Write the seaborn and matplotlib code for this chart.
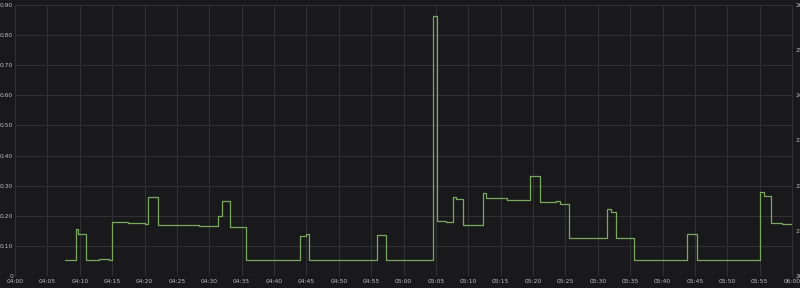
import matplotlib
matplotlib.use("Agg")
import matplotlib.pyplot as plt
import seaborn as sns
import pandas as pd

# minutes after 04:00 where the value changes, and the value from then on
minutes = [7.7, 9.4, 9.7, 11.0, 13.0, 14.5, 15.0, 17.5, 20.1, 20.5, 22.1, 25.0, 28.4,
           31.35, 31.97, 33.2, 35.68, 44.02, 44.94, 45.41, 55.86, 57.25, 64.6, 65.13,
           66.5, 67.65, 68.1, 69.14, 72.23, 72.74, 76.0, 79.54, 81.08, 83.5, 84.2,
           85.6, 91.47, 92.05, 92.77, 95.67, 103.83, 105.4, 115.06, 115.68, 116.71,
           118.5, 120.0]
values = [0.052, 0.156, 0.14, 0.052, 0.055, 0.052, 0.18, 0.175, 0.173, 0.262, 0.17, 0.168, 0.166,
          0.198, 0.25, 0.164, 0.052, 0.134, 0.14, 0.052, 0.137, 0.052, 0.865, 0.182,
          0.178, 0.263, 0.255, 0.168, 0.277, 0.258, 0.253, 0.332, 0.245, 0.248, 0.24,
          0.127, 0.222, 0.212, 0.125, 0.052, 0.138, 0.052, 0.28, 0.265, 0.175,
          0.172, 0.172]

x_ticks = list(range(0, 121, 5))
x_labels = ["04:00", "04:05", "04:10", "04:15", "04:20", "04:25", "04:30", "04:35", "04:40",
            "04:45", "04:50", "04:55", "05:00", "05:05", "05:10", "05:15", "05:20", "05:25",
            "05:30", "05:35", "05:40", "05:45", "05:50", "05:55", "06:00"]
y_ticks = [0, 0.1, 0.2, 0.3, 0.4, 0.5, 0.6, 0.7, 0.8, 0.9]
y_labels = ["0", "0.10", "0.20", "0.30", "0.40", "0.50", "0.60", "0.70", "0.80", "0.90"]
right_ticks = [20, 21, 22, 23, 24, 25, 26]
right_labels = ["20", "21", "22", "23", "24", "25", "26"]

BG = "#19191b"
GRID = "#323234"
TXT = "#c0c0c0"
LINE = "#7aa862"

sns.set_theme(style="dark")
plt.rcParams["font.family"] = ["DejaVu Sans"]

df = pd.DataFrame({"t": minutes, "v": values})

fig = plt.figure(figsize=(8, 2.88), dpi=100, facecolor=BG)
ax = fig.add_axes([15 / 800, 12 / 288, 777 / 800, 271 / 288])
ax.set_facecolor(BG)

sns.lineplot(data=df, x="t", y="v", ax=ax, color=LINE, linewidth=0.9,
             drawstyle="steps-post", estimator=None, sort=False)

ax.set_xlim(0, 120)
ax.set_ylim(0, 0.9)
ax.set_xticks(x_ticks)
ax.set_xticklabels(x_labels)
ax.set_yticks(y_ticks)
ax.set_yticklabels(y_labels)
ax.set_xlabel("")
ax.set_ylabel("")
ax.grid(True, color=GRID, linewidth=0.7)
ax.tick_params(axis="both", length=0, labelsize=4.3, labelcolor=TXT)
ax.tick_params(axis="x", pad=2.5)
ax.tick_params(axis="y", pad=1.5)
for s in ax.spines.values():
    s.set_visible(False)
ax.spines["left"].set_visible(True)
ax.spines["left"].set_color(GRID)
ax.spines["left"].set_linewidth(0.7)

ax2 = ax.twinx()
ax2.set_ylim(20, 26)
ax2.set_yticks(right_ticks)
ax2.set_yticklabels(right_labels)
ax2.tick_params(axis="y", length=0, labelsize=4.3, labelcolor=TXT, pad=2.5)
ax2.grid(False)
for s in ax2.spines.values():
    s.set_visible(False)
ax2.spines["right"].set_visible(True)
ax2.spines["right"].set_color(GRID)
ax2.spines["right"].set_linewidth(0.7)

fig.savefig("out.png", dpi=100, facecolor=BG)
